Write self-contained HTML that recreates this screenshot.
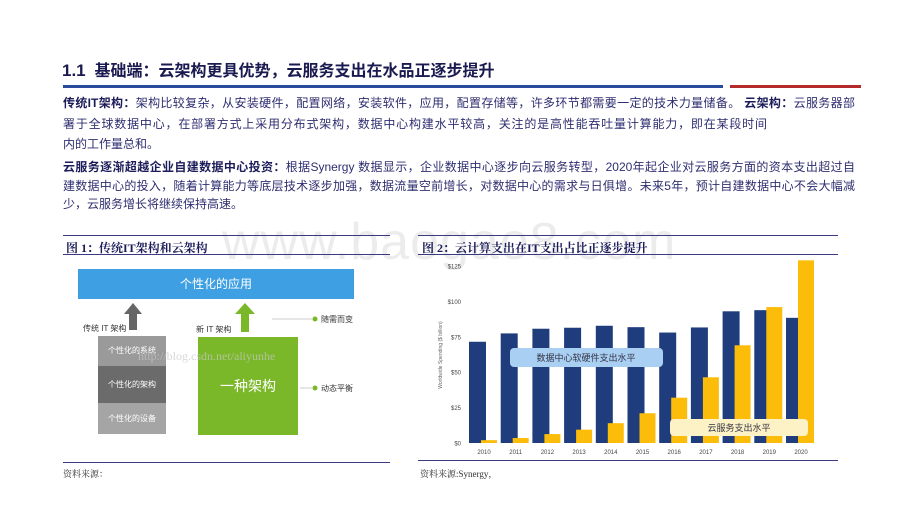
<!DOCTYPE html>
<html><head><meta charset="utf-8">
<style>
body{margin:0;background:#fff;}
#root{position:relative;width:920px;height:518px;overflow:hidden;background:#fff;font-family:"Liberation Sans","Noto Sans CJK SC",sans-serif;}
.abs{position:absolute;}
.ln{position:absolute;left:63px;font-size:12px;color:#2e2e70;white-space:nowrap;line-height:14px;}
.j{text-align:justify;text-align-last:justify;}
b{color:#1c1c5a;}
.ser{font-family:"Liberation Serif","Noto Serif CJK SC",serif;}
</style></head><body>
<div id="root">
<div class="abs" style="left:222px;top:212px;font-size:52px;color:#ececec;letter-spacing:1px;">www.baogao8.com</div>

<div class="abs" style="left:62px;top:57px;font-size:16px;font-weight:bold;color:#1a1a50;"><span style="font-size:17px">1.1</span>&nbsp; 基础端：云架构更具优势，云服务支出在水品正逐步提升</div>
<div class="abs" style="left:63px;top:85px;width:660px;height:3px;background:#2a4a9a;"></div>
<div class="abs" style="left:730px;top:85px;width:131px;height:3px;background:#b52a2a;"></div>

<div class="ln j" style="top:96px;width:792px;"><b>传统IT架构：</b>架构比较复杂，从安装硬件，配置网络，安装软件，应用，配置存储等，许多环节都需要一定的技术力量储备。 <b>云架构：</b>云服务器部</div>
<div class="ln j" style="top:117px;width:704px;">署于全球数据中心，在部署方式上采用分布式架构，数据中心构建水平较高，关注的是高性能吞吐量计算能力，即在某段时间</div>
<div class="ln" style="top:137px;">内的工作量总和。</div>
<div class="ln j" style="top:160px;width:792px;"><b>云服务逐渐超越企业自建数据中心投资：</b>根据Synergy 数据显示，企业数据中心逐步向云服务转型，2020年起企业对云服务方面的资本支出超过自</div>
<div class="ln j" style="top:179px;width:792px;">建数据中心的投入，随着计算能力等底层技术逐步加强，数据流量空前增长，对数据中心的需求与日俱增。未来5年，预计自建数据中心不会大幅减</div>
<div class="ln" style="top:197px;">少，云服务增长将继续保持高速。</div>

<!-- Figure 1 -->
<div class="abs" style="left:63px;top:235px;width:327px;height:1px;background:#3a3a80;"></div>
<div class="abs ser" style="left:66px;top:239px;font-size:12px;font-weight:bold;color:#1c1c5a;">图 1：传统IT架构和云架构</div>
<div class="abs" style="left:63px;top:254px;width:327px;height:1px;background:#3a3a80;"></div>
<div class="abs" style="left:78px;top:269px;width:276px;height:30px;background:#3f9fe3;color:#fff;font-size:12px;text-align:center;line-height:30px;">个性化的应用</div>
<svg class="abs" style="left:0;top:0" width="400" height="470">
<polygon points="129,330 129,314 124,314 133,303 142,314 137,314 137,330" fill="#666"/>
<polygon points="241,332 241,314 235,314 245,303 255,314 249,314 249,332" fill="#7ab829"/>
<line x1="272" y1="319" x2="312" y2="319" stroke="#ccc" stroke-width="1"/>
<circle cx="315" cy="319" r="2.5" fill="#7ab829"/>
<line x1="300" y1="388" x2="312" y2="388" stroke="#ccc" stroke-width="1"/>
<circle cx="315" cy="388" r="2.5" fill="#7ab829"/>
</svg>
<div class="abs" style="left:83px;top:323px;font-size:8px;color:#333;">传统 IT 架构</div>
<div class="abs" style="left:98px;top:336px;width:68px;height:30px;background:#9a9a9a;color:#fff;font-size:8px;text-align:center;line-height:30px;">个性化的系统</div>
<div class="abs" style="left:98px;top:366px;width:68px;height:37px;background:#6b6b6b;color:#fff;font-size:8px;text-align:center;line-height:37px;">个性化的架构</div>
<div class="abs" style="left:98px;top:403px;width:68px;height:31px;background:#a5a5a5;color:#fff;font-size:8px;text-align:center;line-height:31px;">个性化的设备</div>
<div class="abs" style="left:196px;top:324px;font-size:8px;color:#333;">新 IT 架构</div>
<div class="abs" style="left:198px;top:337px;width:100px;height:98px;background:#7ab829;color:#fff;font-size:14px;text-align:center;line-height:98px;">一种架构</div>
<div class="abs" style="left:321px;top:314px;font-size:8px;color:#333;">随需而变</div>
<div class="abs" style="left:321px;top:383px;font-size:8px;color:#333;">动态平衡</div>
<div class="abs" style="left:138px;top:349px;font-size:12px;color:rgba(200,200,200,0.7);font-family:'Liberation Serif',serif;">http://blog.csdn.net/aliyunhe</div>
<div class="abs" style="left:63px;top:462px;width:327px;height:1px;background:#3a3a80;"></div>
<div class="abs ser" style="left:63px;top:467px;font-size:9px;color:#333;">资料来源：</div>

<!-- Figure 2 -->
<div class="abs" style="left:418px;top:235px;width:420px;height:1px;background:#3a3a80;"></div>
<div class="abs ser" style="left:422px;top:239px;font-size:12px;font-weight:bold;color:#1c1c5a;">图 2：云计算支出在IT支出占比正逐步提升</div>
<div class="abs" style="left:418px;top:254px;width:420px;height:1px;background:#3a3a80;"></div>
<svg id="chart" class="abs" style="left:0;top:0" width="920" height="470"></svg>
<div class="abs" style="left:418px;top:460px;width:420px;height:1px;background:#3a3a80;"></div>
<div class="abs ser" style="left:420px;top:467px;font-size:9px;color:#333;">资料来源:Synergy，</div>
</div>
<script>
const years=["2010","2011","2012","2013","2014","2015","2016","2017","2018","2019","2020"];
const dataCenter=[71.5,77.4,80.7,81.4,82.8,81.8,78,81.6,93,93.8,88.4];
const cloud=[2,3.5,6.3,9.4,14,21,32,46.4,69,96,129];
const yTicks=[0,25,50,75,100,125];
const yTickLabels=["$0","$25","$50","$75","$100","$125"];
const NS="http://www.w3.org/2000/svg";
const svg=document.getElementById('chart');
const y0=443, pxPerUnit=(443-266)/125, topClip=260;
function y(v){return Math.max(topClip,y0-v*pxPerUnit);}
function xg(i){return 469+i*31.7;}
function mk(tag,attrs){const e=document.createElementNS(NS,tag);for(const k in attrs)e.setAttribute(k,attrs[k]);svg.appendChild(e);return e;}
yTicks.forEach((t,i)=>{const e=mk('text',{x:461,y:y0-t*pxPerUnit+2.5,'text-anchor':'end','font-size':6,fill:'#444','font-family':'Liberation Sans'});e.textContent=yTickLabels[i];

});
const at=mk('text',{x:0,y:0,transform:'translate(442,355) rotate(-90)','text-anchor':'middle','font-size':5,fill:'#666','font-family':'Liberation Sans'});at.textContent='Worldwide Spending ($ billion)';


years.forEach((yr,i)=>{
const b=mk('rect',{x:xg(i),y:y(dataCenter[i]),width:17,height:y0-y(dataCenter[i]),fill:'#1f3c7c'});


const c=mk('rect',{x:xg(i)+12,y:y(cloud[i]),width:16,height:y0-y(cloud[i]),fill:'#fcbd0a'});


const t=mk('text',{x:xg(i)+15,y:454,'text-anchor':'middle','font-size':6,fill:'#444','font-family':'Liberation Sans'});t.textContent=yr;


});
const l1=mk('rect',{x:510,y:348,width:153,height:19,rx:4,fill:'#a9cff3'});


const t1=mk('text',{x:586,y:361,'text-anchor':'middle','font-size':9,fill:'#334','font-family':'Noto Sans CJK SC'});t1.textContent='数据中心软硬件支出水平';


const l2=mk('rect',{x:670,y:419,width:138,height:17,rx:4,fill:'#fdf2c6'});


const t2=mk('text',{x:739,y:431,'text-anchor':'middle','font-size':9,fill:'#334','font-family':'Noto Sans CJK SC'});t2.textContent='云服务支出水平';


</script>
</body></html>
